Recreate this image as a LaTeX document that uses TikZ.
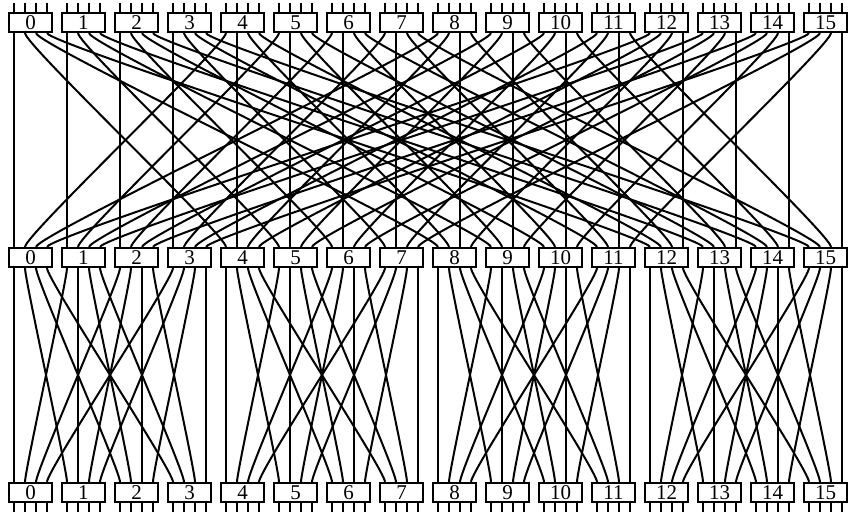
\documentclass[tikz,border=0pt]{standalone}
\usepackage{fontspec}
\setmainfont{Liberation Serif}
\usetikzlibrary{calc}

\begin{document}
\begin{tikzpicture}[
        x=0.5pt, y=-0.5pt,
        switch/.style={rectangle, draw, line width=1pt, fill=white, minimum width=21.5pt, minimum height=9.5pt, inner sep=0pt, font=\fontsize{10.5}{11}\selectfont},
        wire/.style={line width=1pt}
    ]
        \useasboundingbox (0,0) rectangle (848,515);

        % Switch rows and their ports
        \foreach \i in {0,...,15} {
            \node[switch] (t\i) at (30.5+53*\i, 22.5) {\i};
            \node[switch] (m\i) at (30.5+53*\i, 257.5) {\i};
            \node[switch] (b\i) at (30.5+53*\i, 492.5) {\i};
            \foreach \j in {0,...,3} {
                \coordinate (tn\i-\j) at ($(t\i.north)+(-16.5+11*\j,0)$);
                \coordinate (ts\i-\j) at ($(t\i.south)+(-16.5+11*\j,0)$);
                \coordinate (mn\i-\j) at ($(m\i.north)+(-16.5+11*\j,0)$);
                \coordinate (ms\i-\j) at ($(m\i.south)+(-16.5+11*\j,0)$);
                \coordinate (bn\i-\j) at ($(b\i.north)+(-16.5+11*\j,0)$);
                \coordinate (bs\i-\j) at ($(b\i.south)+(-16.5+11*\j,0)$);
                \coordinate (in\i-\j) at ($(tn\i-\j)+(0,-9)$);
                \coordinate (out\i-\j) at ($(bs\i-\j)+(0,9)$);
                \draw[wire] (tn\i-\j) -- (in\i-\j);
                \draw[wire] (bs\i-\j) -- (out\i-\j);
            }
        }

        % First stage: switch 4a+b, port c -> switch 4c+b, port a
        \foreach \a in {0,...,3} {
            \foreach \b in {0,...,3} {
                \foreach \c in {0,...,3} {
                    \pgfmathtruncatemacro\src{4*\a+\b}
                    \pgfmathtruncatemacro\dst{4*\c+\b}
                    \draw[wire] (ts\src-\c) .. controls +(0,12) and +(0,-12) .. (mn\dst-\a);
                }
            }
        }

        % Second stage: within each group of four switches
        \foreach \g in {0,...,3} {
            \foreach \b in {0,...,3} {
                \foreach \c in {0,...,3} {
                    \pgfmathtruncatemacro\src{4*\g+\b}
                    \pgfmathtruncatemacro\dst{4*\g+\c}
                    \draw[wire] (ms\src-\c) .. controls +(0,12) and +(0,-12) .. (bn\dst-\b);
                }
            }
        }
    \end{tikzpicture}
\end{document}
